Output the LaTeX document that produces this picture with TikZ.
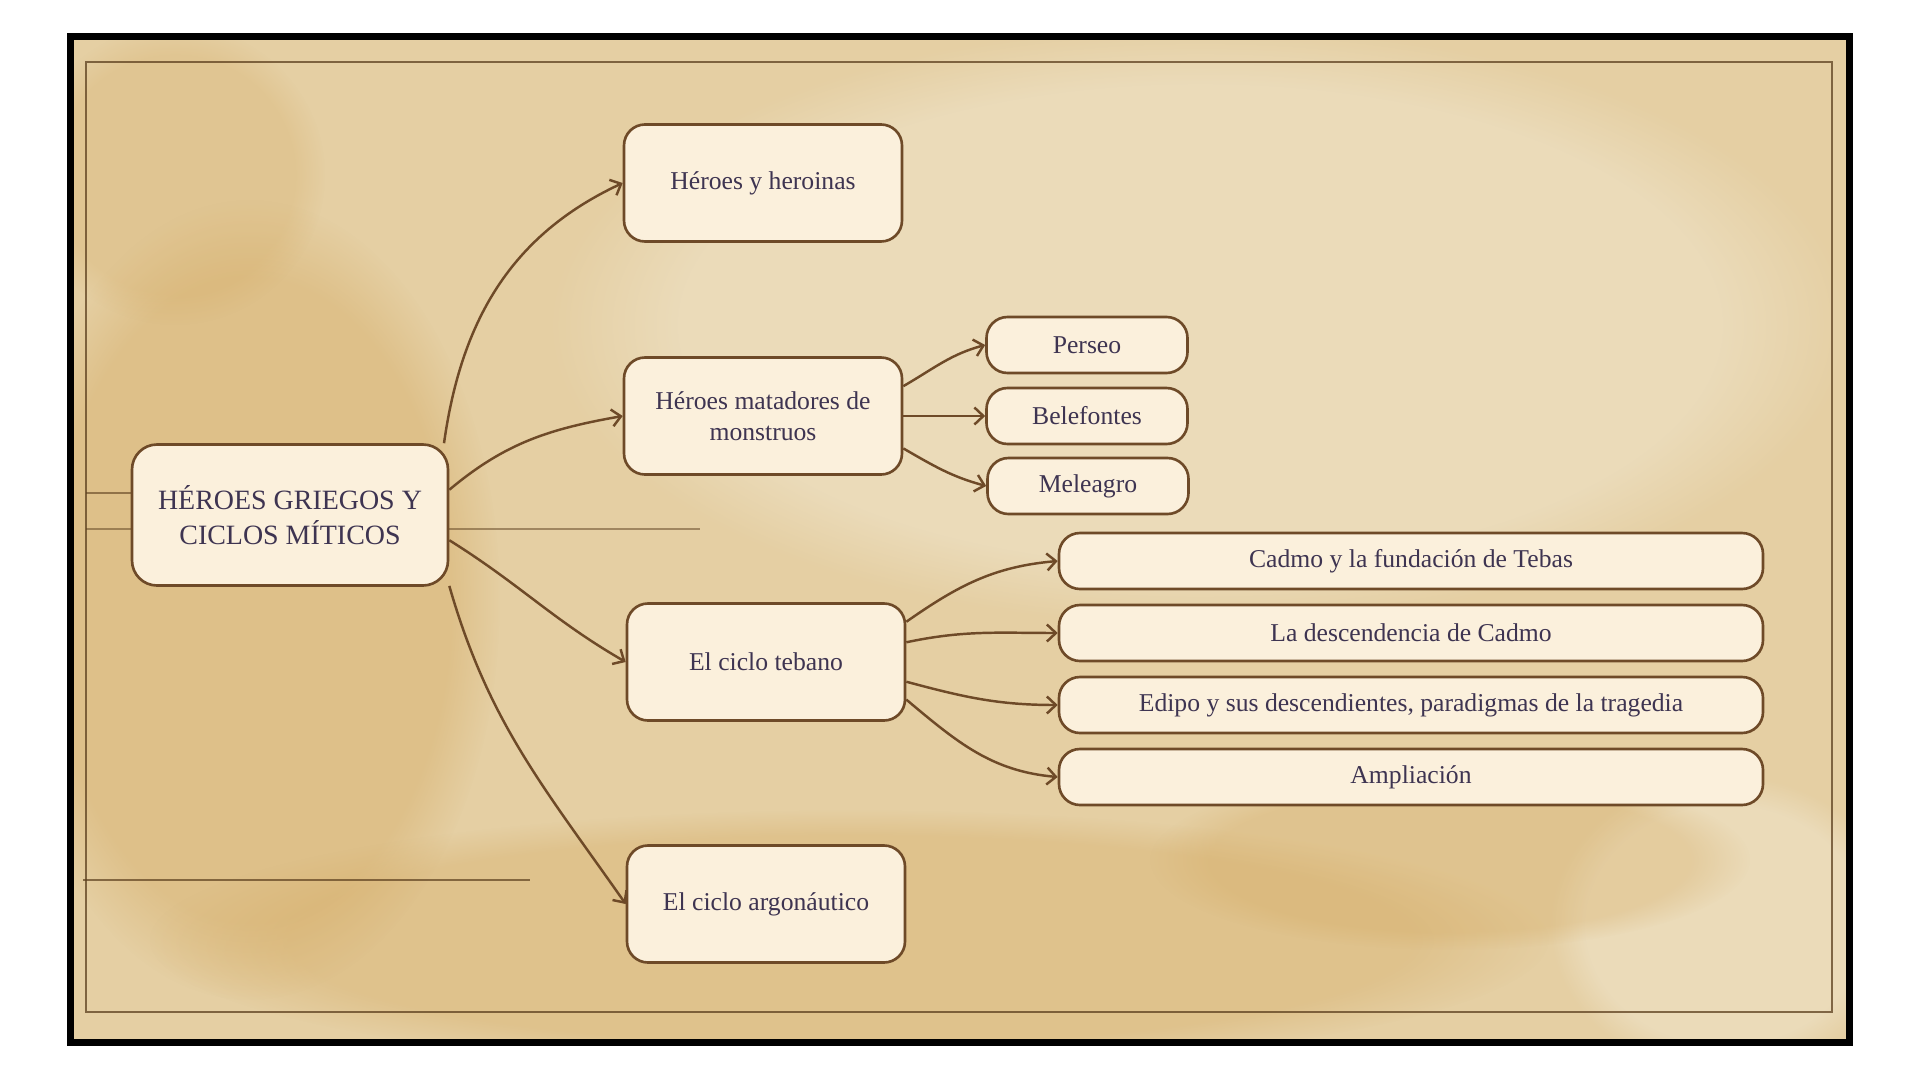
\documentclass[tikz,border=0pt]{standalone}
\usepackage{fontspec}
\setmainfont{Liberation Serif}
\usetikzlibrary{arrows.meta, positioning, fadings}

\definecolor{parchment}{HTML}{E5CFA3}
\definecolor{stain}{HTML}{D4AA62}
\definecolor{paleweather}{HTML}{EFE3C8}
\definecolor{inkline}{HTML}{5C3F1E}
\definecolor{boxfill}{HTML}{FBF0DC}
\definecolor{boxline}{HTML}{6E4A28}
\definecolor{boxtext}{HTML}{3E3451}

\begin{document}
\begin{tikzpicture} [node distance = 2cm, on grid, auto,
        topic/.style = {draw=boxline, line width=1.5pt, fill=boxfill, text=boxtext,
            rounded corners=0.42cm, align=center, font=\fontsize{14.6}{17.6}\selectfont,
            minimum width=5.56cm, minimum height=2.34cm},
        mainbox/.style = {topic, rounded corners=0.5cm, minimum width=6.32cm,
            minimum height=2.82cm, font=\fontsize{15.9}{19.9}\selectfont},
        leaf/.style = {topic, rounded corners=0.42cm, minimum width=4.02cm, minimum height=1.12cm},
        wideleaf/.style = {leaf, minimum width=14.08cm},
        link/.style = {color=boxline, line width=1.4pt, -{Straight Barb[length=1.8mm, width=3.4mm]}},
        blot/.style = {fill=#1, path fading=circle with fuzzy edge 20 percent}]
        \useasboundingbox (0,0) rectangle (38.4,-21.6);
        \fill[white] (0,0) rectangle (38.4,-21.6);

        % parchment sheet
        \fill[parchment] (1.41,-0.73) rectangle (36.99,-20.85);
        \begin{scope}
            \clip (1.41,-0.73) rectangle (36.99,-20.85);
            \fill[blot=stain, opacity=0.4] (5,-12) ellipse (5 and 8);
            \fill[blot=stain, opacity=0.35] (17,-18.8) ellipse (14 and 2.6);
            \fill[blot=stain, opacity=0.25] (3.5,-3.5) ellipse (3 and 3);
            \fill[blot=paleweather, opacity=0.6] (24,-6.5) ellipse (13 and 6);
            \fill[blot=paleweather, opacity=0.6] (34.5,-18.5) ellipse (3.5 and 3);
            \fill[blot=stain, opacity=0.3] (29,-17.2) ellipse (6 and 1.8);
        \end{scope}
        \draw[line width=0.14cm] (1.41,-0.73) rectangle (36.99,-20.85);
        \draw[inkline, opacity=0.75, line width=0.04cm] (1.72,-1.24) rectangle (36.64,-20.24);
        \draw[inkline, opacity=0.6, line width=0.04cm] (1.72,-9.86) -- (2.64,-9.86);
        \draw[inkline, opacity=0.5, line width=0.04cm] (1.72,-10.58) -- (14,-10.58);
        \draw[inkline, opacity=0.7, line width=0.04cm] (1.66,-17.6) -- (10.6,-17.6);

        \node (root) [mainbox] at (5.8,-10.3) {HÉROES GRIEGOS Y\\CICLOS MÍTICOS};
        \node (heroes) [topic, above right = 6.64cm and 9.46cm of root] {Héroes y heroinas};
        \node (monsters) [topic, above right = 1.98cm and 9.46cm of root] {Héroes matadores de\\monstruos};
        \node (thebes) [topic, below right = 2.94cm and 9.52cm of root] {El ciclo tebano};
        \node (argo) [topic, below right = 7.78cm and 9.52cm of root] {El ciclo argonáutico};

        \node (perseo) [leaf, above right = 1.42cm and 6.48cm of monsters] {Perseo};
        \node (belef) [leaf, right = 6.48cm of monsters] {Belefontes};
        \node (meleag) [leaf, below right = 1.40cm and 6.5cm of monsters] {Meleagro};

        \node (cadmo) [wideleaf, above right = 2.02cm and 12.9cm of thebes] {Cadmo y la fundación de Tebas};
        \node (descend) [wideleaf, below = 1.44cm of cadmo] {La descendencia de Cadmo};
        \node (edipo) [wideleaf, below = 1.44cm of descend] {Edipo y sus descendientes, paradigmas de la tragedia};
        \node (ampl) [wideleaf, below = 1.44cm of edipo] {Ampliación};

        \path[link](root.25) edge [out=82, in=205] (heroes.west);
        \path[link](root.9) edge [out=40, in=190] (monsters.west);
        \path[link](root.-9) edge [out=-32, in=150] (thebes.west);
        \path[link](root.-24) edge [out=-74, in=125] (argo.west);

        \path[link](monsters.12) edge [out=30, in=195] (perseo.west);
        \path[link](monsters.east) edge (belef.west);
        \path[link](monsters.-13) edge [out=-30, in=165] (meleag.west);

        \path[link](thebes.16) edge [out=35, in=185] (cadmo.west);
        \path[link](thebes.8) edge [out=12, in=180] (descend.west);
        \path[link](thebes.-8) edge [out=-15, in=180] (edipo.west);
        \path[link](thebes.-15) edge [out=-40, in=175] (ampl.west);
    \end{tikzpicture}
\end{document}
